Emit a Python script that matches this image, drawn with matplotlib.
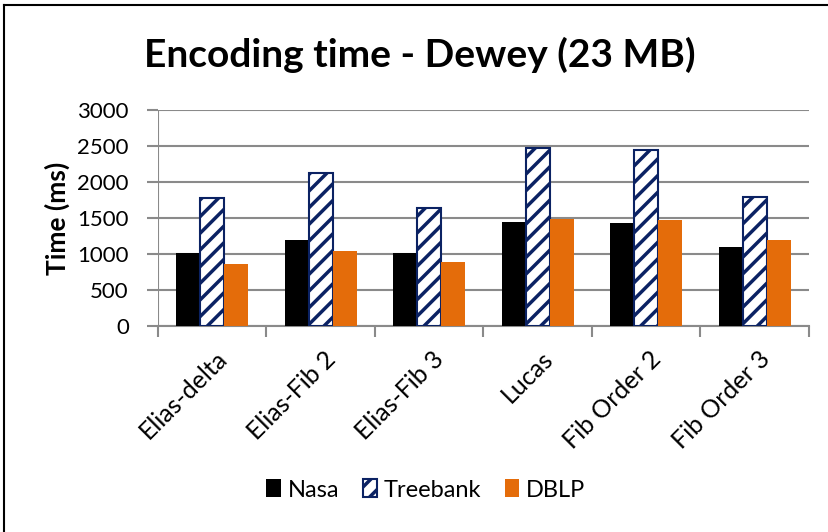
import numpy as np
import matplotlib
matplotlib.use("Agg")
import matplotlib.pyplot as plt
import matplotlib.transforms as mtransforms
from matplotlib.lines import Line2D
from matplotlib.patches import Patch

plt.rcParams['font.family'] = ['Lato', 'DejaVu Sans']
plt.rcParams['hatch.linewidth'] = 2.5

categories = ['Elias-delta', 'Elias-Fib 2', 'Elias-Fib 3', 'Lucas', 'Fib Order 2', 'Fib Order 3']
nasa = [1020, 1195, 1010, 1440, 1425, 1100]
treebank = [1775, 2130, 1635, 2470, 2440, 1795]
dblp = [865, 1035, 885, 1480, 1475, 1190]
yticks = [0, 500, 1000, 1500, 2000, 2500, 3000]

navy = '#0B2263'
orange = '#E46C0A'
grid_gray = '#8A8A8A'

fig = plt.figure(figsize=(8.29, 5.32), dpi=100)
ax = fig.add_axes([158 / 829, 1 - 326 / 532, (809 - 158) / 829, (326 - 110) / 532])

x = np.arange(len(categories))
w = 0.22
ax.bar(x - w, nasa, w, color='black', zorder=3)
ax.bar(x, treebank, w, color='white', edgecolor=navy, hatch='//', linewidth=1.5, zorder=3)
ax.bar(x + w, dblp, w, color=orange, zorder=3)

ax.set_xlim(-0.5, len(categories) - 0.5)
ax.set_ylim(0, 3000)
ax.set_yticks(yticks)
ax.set_yticklabels([str(v) for v in yticks], fontsize=16)
ax.yaxis.grid(True, color=grid_gray, linewidth=1.5, zorder=0)
ax.set_axisbelow(True)

# category labels at centres, tick marks at boundaries
ax.set_xticks(x)
ax.set_xticklabels(categories, rotation=45, ha='right', va='top', rotation_mode='anchor', fontsize=18)
ax.tick_params(axis='x', which='major', length=0, pad=15)
shift = mtransforms.ScaledTranslation(3 / 100, 0, fig.dpi_scale_trans)
for lab in ax.get_xticklabels():
    lab.set_transform(lab.get_transform() + shift)
ax.set_xticks(np.arange(len(categories) + 1) - 0.5, minor=True)
ax.tick_params(axis='x', which='minor', length=8, width=1.5, color=grid_gray)
ax.tick_params(axis='y', length=8, width=1.5, color=grid_gray, pad=13)

for s in ['top', 'right', 'left']:
    ax.spines[s].set_visible(False)
ax.spines['bottom'].set_color(grid_gray)
ax.spines['bottom'].set_linewidth(1.5)
ax.axvline(-0.5, color=grid_gray, linewidth=1.5, zorder=1)

fig.text(57 / 829, 1 - 218 / 532, 'Time (ms)', rotation=90,
         ha='center', va='center', fontsize=19, fontweight='bold')
fig.text(420 / 829, 1 - 55 / 532, 'Encoding time - Dewey (23 MB)',
         ha='center', va='center', fontsize=28, fontweight='bold')

handles = [Patch(facecolor='black'),
           Patch(facecolor='white', edgecolor=navy, hatch='//', linewidth=1.5),
           Patch(facecolor=orange)]
fig.legend(handles, ['Nasa', 'Treebank', 'DBLP'], loc='center',
           bbox_to_anchor=(426 / 829, 1 - 490 / 532), ncol=3, frameon=False,
           fontsize=17, handlelength=0.6, handleheight=0.8, handletextpad=0.3,
           columnspacing=1.0)

# outer frame (cropped on right and bottom)
fig.add_artist(Line2D([4 / 829, 4 / 829], [0, 1 - 4.5 / 532], color='black', linewidth=1.5,
                      transform=fig.transFigure))
fig.add_artist(Line2D([4 / 829, 1], [1 - 4.5 / 532, 1 - 4.5 / 532], color='black', linewidth=1.5,
                      transform=fig.transFigure))

fig.savefig('out.png', dpi=100)
